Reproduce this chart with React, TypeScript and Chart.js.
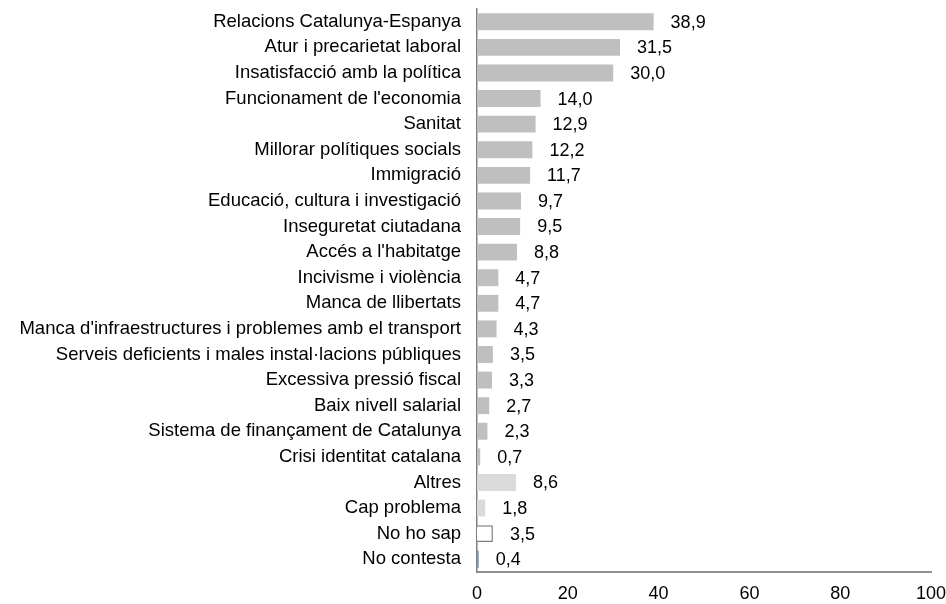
import React, { useEffect, useRef } from "react";
import { Chart, registerables } from "chart.js";

Chart.register(...registerables);

const categories = [
  "Relacions Catalunya-Espanya",
  "Atur i precarietat laboral",
  "Insatisfacció amb la política",
  "Funcionament de l'economia",
  "Sanitat",
  "Millorar polítiques socials",
  "Immigració",
  "Educació, cultura i investigació",
  "Inseguretat ciutadana",
  "Accés a l'habitatge",
  "Incivisme i violència",
  "Manca de llibertats",
  "Manca d'infraestructures i problemes amb el transport",
  "Serveis deficients i males instal·lacions públiques",
  "Excessiva pressió fiscal",
  "Baix nivell salarial",
  "Sistema de finançament de Catalunya",
  "Crisi identitat catalana",
  "Altres",
  "Cap problema",
  "No ho sap",
  "No contesta",
];

const values = [
  38.9, 31.5, 30.0, 14.0, 12.9, 12.2, 11.7, 9.7, 9.5, 8.8, 4.7, 4.7, 4.3, 3.5,
  3.3, 2.7, 2.3, 0.7, 8.6, 1.8, 3.5, 0.4,
];

const xTicks = [0, 20, 40, 60, 80, 100];

const MAIN = "#bfbfbf";
const LIGHT = "#dadada";
const fillColors = categories.map((c) => {
  if (c === "Altres" || c === "Cap problema") return LIGHT;
  if (c === "No ho sap") return "#ffffff";
  if (c === "No contesta") return "#7d9cb8";
  return MAIN;
});
const borderColors = categories.map((c) => (c === "No ho sap" ? "#7f7f7f" : "rgba(0,0,0,0)"));
const borderWidths = categories.map((c) => (c === "No ho sap" ? 1.5 : 0));

const FONT = "'Liberation Sans', Arial, sans-serif";

const valueLabels = {
  id: "valueLabels",
  afterDatasetsDraw(chart: any) {
    const ctx = chart.ctx;
    const meta = chart.getDatasetMeta(0);
    ctx.save();
    ctx.font = `18px ${FONT}`;
    ctx.fillStyle = "#000000";
    ctx.textAlign = "left";
    ctx.textBaseline = "middle";
    meta.data.forEach((bar: any, i: number) => {
      const v = values[i];
      ctx.fillText(v.toFixed(1).replace(".", ","), bar.x + 17, bar.y + 1);
    });
    ctx.restore();
  },
};

export default function App() {
  const ref = useRef<HTMLCanvasElement>(null);
  useEffect(() => {
    document.body.style.margin = "0";
    const chart = new Chart(ref.current!, {
      type: "bar",
      data: {
        labels: categories,
        datasets: [
          {
            data: values,
            backgroundColor: fillColors,
            borderColor: borderColors,
            borderWidth: borderWidths,
            categoryPercentage: 1,
            barPercentage: 0.66,
          },
        ],
      },
      options: {
        indexAxis: "y",
        responsive: false,
        animation: false,
        layout: { padding: { top: 9, right: 15, bottom: 0, left: 0 } },
        plugins: {
          legend: { display: false },
          tooltip: { enabled: false },
        },
        scales: {
          x: {
            min: 0,
            max: 100,
            afterBuildTicks: (scale: any) => {
              scale.ticks = xTicks.map((v) => ({ value: v }));
            },
            afterFit: (scale: any) => {
              scale.height = 32;
              scale.paddingLeft = 0;
              scale.paddingRight = 0;
            },
            grid: { display: false, drawTicks: false },
            border: { display: true, color: "#929292", width: 2 },
            ticks: {
              color: "#000000",
              font: { family: FONT, size: 18 },
              padding: 11,
            },
          },
          y: {
            grid: { display: false, drawTicks: false },
            border: { display: true, color: "#7f7f7f", width: 1.5 },
            afterFit: (scale: any) => {
              scale.width = 477;
              scale.paddingTop = 0;
              scale.paddingBottom = 0;
            },
            ticks: {
              color: "#000000",
              font: { family: FONT, size: 18.5 },
              padding: 16,
              autoSkip: false,
            },
          },
        },
      },
      plugins: [valueLabels],
    });
    return () => chart.destroy();
  }, []);
  return <canvas ref={ref} width={946} height={604} style={{ display: "block" }} />;
}
